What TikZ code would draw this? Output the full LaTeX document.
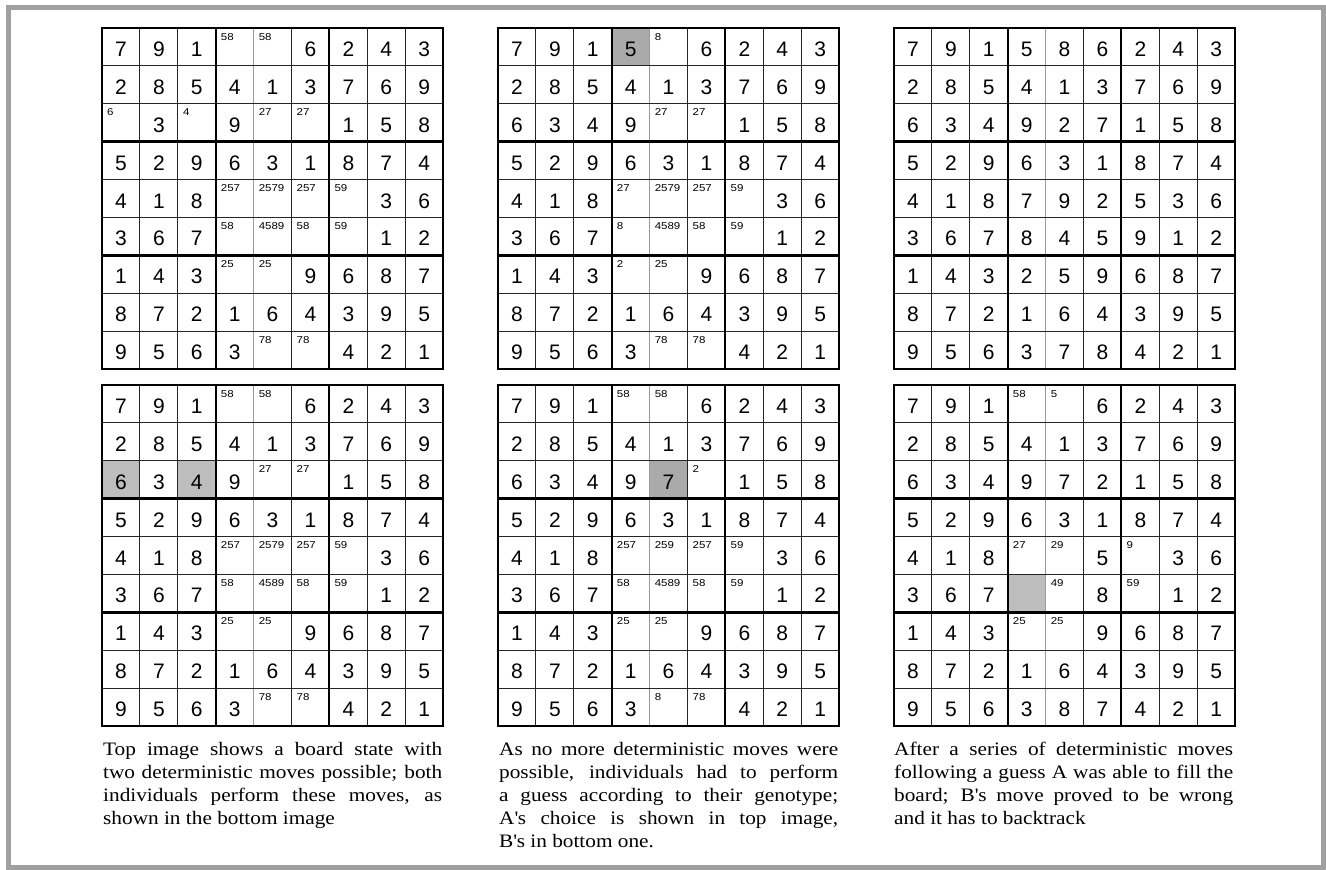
\documentclass[tikz,border=0pt]{standalone}
\usepackage{fontspec}
\setsansfont{Liberation Sans}
\newfontfamily\captionfont[FakeStretch=1.12]{Liberation Serif}
\newfontfamily\candfont[FakeStretch=1.15]{Liberation Sans}
\usepackage{xcolor}
\definecolor{frameGray}{HTML}{A0A0A0}
\definecolor{cellMove}{HTML}{BDBDBD}
\definecolor{cellGuess}{HTML}{AAAAAA}
\definecolor{ruleGray}{HTML}{9A9A9A}

\tikzset{
  cellDigit/.style={anchor=base, inner sep=0pt, font=\sffamily\fontsize{21}{21}\selectfont},
  cellCand/.style={anchor=north west, inner sep=0pt, font=\candfont\fontsize{10}{10}\selectfont},
  thinRule/.style={line width=1pt, draw=black!85},
  midRule/.style={line width=1pt, draw=ruleGray},
  boxRuleV/.style={line width=2pt},
  boxRuleH/.style={line width=3pt},
  boardFrame/.style={line width=2.5pt},
  captionText/.style={anchor=north west, inner sep=0pt, text width=339pt, align=justify,
    font=\captionfont\fontsize{19}{23}\selectfont}
}
\newcommand{\cellw}{37.9}

% #1 name, #2/#3 top left corner, #4 shaded cells row/col/colour, #5 the nine rows
\newcommand{\sudokuboard}[5]{%
  \begin{scope}[shift={(#2,#3)}]
    \foreach \row/\col/\tone in {#4}
      \fill[\tone] ({\col*\cellw},{\row*\cellw}) rectangle ++(\cellw,\cellw);
    \foreach \i in {1,2,5,7,8}
      \draw[thinRule] ({\i*\cellw},0) -- ({\i*\cellw},{9*\cellw});
    \draw[midRule] ({4*\cellw},0) -- ({4*\cellw},{9*\cellw});
    \foreach \i in {1,2,4,5,7,8}
      \draw[thinRule] (0,{\i*\cellw}) -- ({9*\cellw},{\i*\cellw});
    \foreach \i in {3,6} {
      \draw[boxRuleV] ({\i*\cellw},0) -- ({\i*\cellw},{9*\cellw});
      \draw[boxRuleH] (0,{\i*\cellw}) -- ({9*\cellw},{\i*\cellw});
    }
    \draw[boardFrame] (0,0) rectangle ({9*\cellw},{9*\cellw});
    \foreach \rowlist [count=\row from 0] in {#5} {
      \foreach \val/\cand [count=\col from 0] in \rowlist {
        \node[cellDigit] (#1-\row-\col) at ({(\col+0.5)*\cellw},{(\row+0.5)*\cellw+9.5}) {\val};
        \node[cellCand] (#1-\row-\col-c) at ({\col*\cellw+5},{\row*\cellw+5}) {\cand};
      }
    }
  \end{scope}}

\begin{document}
\begin{tikzpicture}[x=1pt, y=-1pt]
  \useasboundingbox (0,0) rectangle (1326,870);
  \draw[frameGray, line width=5pt] (8.5,7.5) rectangle (1323.5,867.5);

  % top row: before the moves, A's guess, A solved
  \sudokuboard{boardA}{102}{28}{}{
    {7/,9/,1/,/58,/58,6/,2/,4/,3/},
    {2/,8/,5/,4/,1/,3/,7/,6/,9/},
    {/6,3/,/4,9/,/27,/27,1/,5/,8/},
    {5/,2/,9/,6/,3/,1/,8/,7/,4/},
    {4/,1/,8/,/257,/2579,/257,/59,3/,6/},
    {3/,6/,7/,/58,/4589,/58,/59,1/,2/},
    {1/,4/,3/,/25,/25,9/,6/,8/,7/},
    {8/,7/,2/,1/,6/,4/,3/,9/,5/},
    {9/,5/,6/,3/,/78,/78,4/,2/,1/}}
  \sudokuboard{boardB}{498}{28}{0/3/cellGuess}{
    {7/,9/,1/,5/,/8,6/,2/,4/,3/},
    {2/,8/,5/,4/,1/,3/,7/,6/,9/},
    {6/,3/,4/,9/,/27,/27,1/,5/,8/},
    {5/,2/,9/,6/,3/,1/,8/,7/,4/},
    {4/,1/,8/,/27,/2579,/257,/59,3/,6/},
    {3/,6/,7/,/8,/4589,/58,/59,1/,2/},
    {1/,4/,3/,/2,/25,9/,6/,8/,7/},
    {8/,7/,2/,1/,6/,4/,3/,9/,5/},
    {9/,5/,6/,3/,/78,/78,4/,2/,1/}}
  \sudokuboard{boardC}{894}{28}{}{
    {7/,9/,1/,5/,8/,6/,2/,4/,3/},
    {2/,8/,5/,4/,1/,3/,7/,6/,9/},
    {6/,3/,4/,9/,2/,7/,1/,5/,8/},
    {5/,2/,9/,6/,3/,1/,8/,7/,4/},
    {4/,1/,8/,7/,9/,2/,5/,3/,6/},
    {3/,6/,7/,8/,4/,5/,9/,1/,2/},
    {1/,4/,3/,2/,5/,9/,6/,8/,7/},
    {8/,7/,2/,1/,6/,4/,3/,9/,5/},
    {9/,5/,6/,3/,7/,8/,4/,2/,1/}}

  % bottom row: after the moves, B's guess, B backtracks
  \sudokuboard{boardD}{102}{385}{2/0/cellMove,2/2/cellMove}{
    {7/,9/,1/,/58,/58,6/,2/,4/,3/},
    {2/,8/,5/,4/,1/,3/,7/,6/,9/},
    {6/,3/,4/,9/,/27,/27,1/,5/,8/},
    {5/,2/,9/,6/,3/,1/,8/,7/,4/},
    {4/,1/,8/,/257,/2579,/257,/59,3/,6/},
    {3/,6/,7/,/58,/4589,/58,/59,1/,2/},
    {1/,4/,3/,/25,/25,9/,6/,8/,7/},
    {8/,7/,2/,1/,6/,4/,3/,9/,5/},
    {9/,5/,6/,3/,/78,/78,4/,2/,1/}}
  \sudokuboard{boardE}{498}{385}{2/4/cellGuess}{
    {7/,9/,1/,/58,/58,6/,2/,4/,3/},
    {2/,8/,5/,4/,1/,3/,7/,6/,9/},
    {6/,3/,4/,9/,7/,/2,1/,5/,8/},
    {5/,2/,9/,6/,3/,1/,8/,7/,4/},
    {4/,1/,8/,/257,/259,/257,/59,3/,6/},
    {3/,6/,7/,/58,/4589,/58,/59,1/,2/},
    {1/,4/,3/,/25,/25,9/,6/,8/,7/},
    {8/,7/,2/,1/,6/,4/,3/,9/,5/},
    {9/,5/,6/,3/,/8,/78,4/,2/,1/}}
  \sudokuboard{boardF}{894}{385}{5/3/cellMove}{
    {7/,9/,1/,/58,/5,6/,2/,4/,3/},
    {2/,8/,5/,4/,1/,3/,7/,6/,9/},
    {6/,3/,4/,9/,7/,2/,1/,5/,8/},
    {5/,2/,9/,6/,3/,1/,8/,7/,4/},
    {4/,1/,8/,/27,/29,5/,/9,3/,6/},
    {3/,6/,7/,/,/49,8/,/59,1/,2/},
    {1/,4/,3/,/25,/25,9/,6/,8/,7/},
    {8/,7/,2/,1/,6/,4/,3/,9/,5/},
    {9/,5/,6/,3/,8/,7/,4/,2/,1/}}

  % captions
  \node[captionText] (capLeft) at (103,742) {Top image shows a board state with\linebreak
    two deterministic moves possible; both\linebreak
    individuals perform these moves, as\linebreak
    shown in the bottom image};
  \node[captionText] (capMiddle) at (499,742) {As no more deterministic moves were\linebreak
    possible, individuals had to perform\linebreak
    a guess according to their genotype;\linebreak
    A\textquotesingle s choice is shown in top image,\linebreak
    B\textquotesingle s in bottom one.};
  \node[captionText] (capRight) at (894,742) {After a series of deterministic moves\linebreak
    following a guess A was able to fill the\linebreak
    board; B\textquotesingle s move proved to be wrong\linebreak
    and it has to backtrack};
\end{tikzpicture}
\end{document}
